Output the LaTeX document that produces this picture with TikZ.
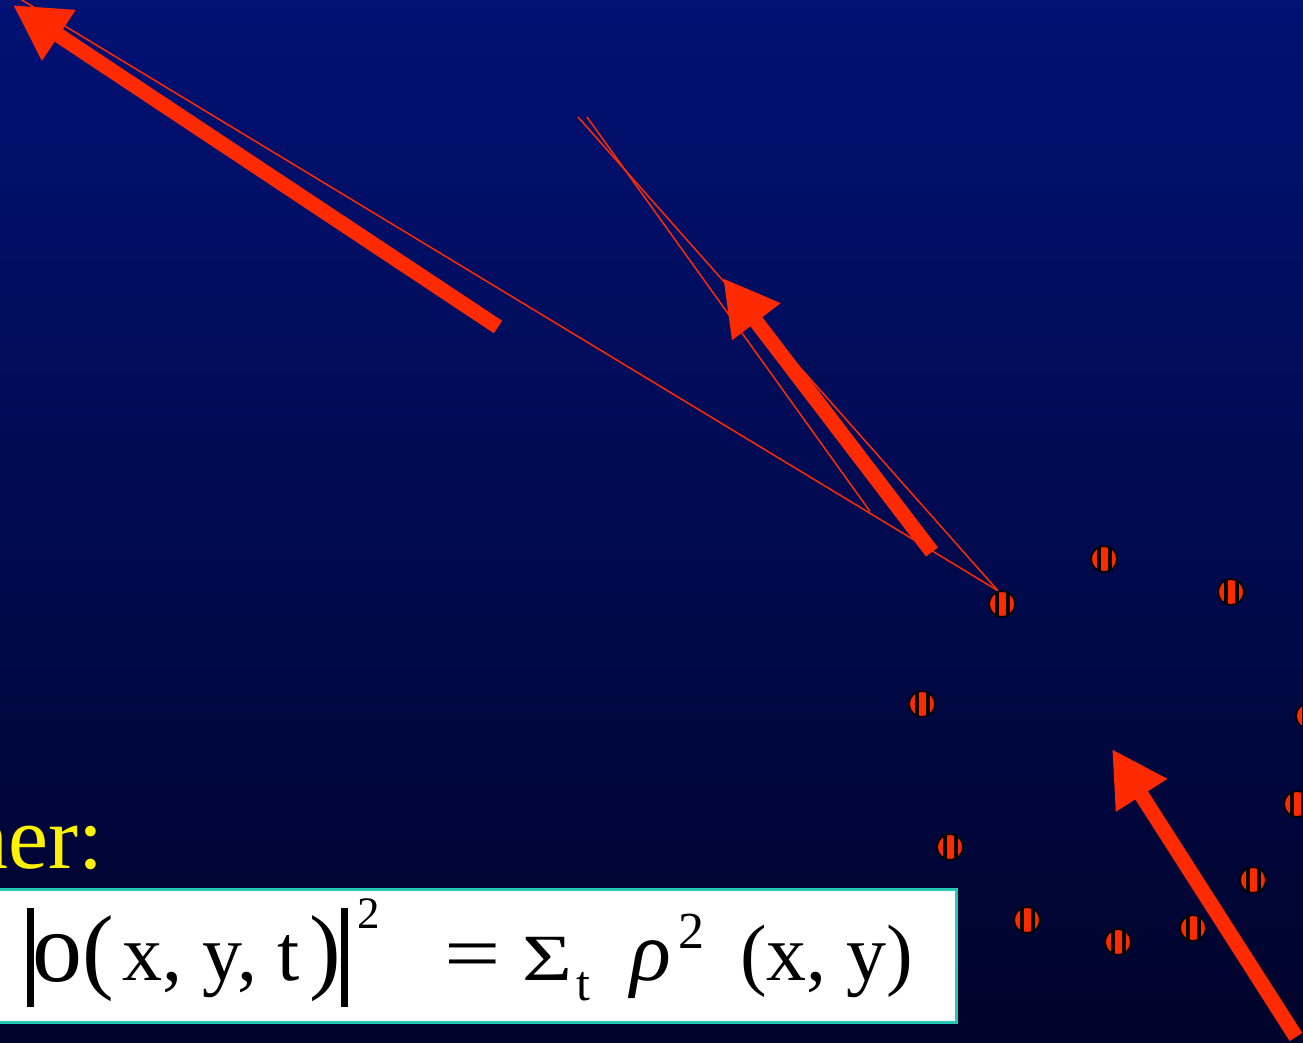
\documentclass[tikz,border=0pt]{standalone}
\usepackage{fontspec}
\setmainfont{Liberation Serif}
\usetikzlibrary{arrows.meta,calc}
\definecolor{bgtop}{RGB}{1,17,116}
\definecolor{bgmid}{RGB}{0,9,84}
\definecolor{bgbot}{RGB}{0,3,42}
\definecolor{arrowred}{RGB}{255,42,0}
\definecolor{boxteal}{RGB}{38,201,179}
\newcommand{\fs}[1]{\fontsize{#1}{#1}\selectfont}
\begin{document}
\begin{tikzpicture}[x=1pt,y=-1pt,
  bigarrow/.style={draw=arrowred, line width=15pt, -{Triangle[length=55pt,width=57pt]}},
  thinline/.style={draw=arrowred, line width=1.5pt},
  stripedot/.style={circle, draw=black, line width=1.8pt, fill=arrowred,
    minimum size=26pt, inner sep=0pt,
    path picture={
      \fill[black] ([xshift=-7.5pt]path picture bounding box.south) rectangle ([xshift=-3.5pt]path picture bounding box.north);
      \fill[black] ([xshift=3.5pt]path picture bounding box.south) rectangle ([xshift=7.5pt]path picture bounding box.north);
    }},
  fpart/.style={anchor=base west, inner sep=0pt, text=black},
  fbar/.style={anchor=south west, inner sep=0pt}
]
\useasboundingbox (0,0) rectangle (1303,1043);
\clip (0,0) rectangle (1303,1043);
\shade[top color=bgtop, middle color=bgmid, bottom color=bgbot] (0,0) rectangle (1303,1043);

% dots
\node[stripedot] (d1) at (1002,604) {};
\node[stripedot] (d2) at (1104,559) {};
\node[stripedot] (d3) at (1231,592) {};
\node[stripedot] (d4) at (922,704) {};
\node[stripedot] (d5) at (1309,716) {};
\node[stripedot] (d6) at (1297,804) {};
\node[stripedot] (d7) at (950,847) {};
\node[stripedot] (d8) at (1027,920) {};
\node[stripedot] (d9) at (1118,942) {};
\node[stripedot] (d10) at (1193,928) {};
\node[stripedot] (d11) at (1253,880) {};

% free ends
\coordinate (a0) at (17,-3);
\coordinate (b0) at (578,117);
\coordinate (c0) at (587,117);
\coordinate (k) at (870,511.4);
\coordinate (t1) at (498,327);
\coordinate (h1) at (13,5);
\coordinate (t2) at (932,552);
\coordinate (h2) at (723,278);
\coordinate (t3) at (1296,1037);
\coordinate (h3) at (1112,749);

% thin lines
\draw[thinline] (d1.107) -- (a0);
\draw[thinline] (d1.107) -- (b0);
\draw[thinline] (k) -- (c0);

% big arrows
\draw[bigarrow] (t1) -- (h1);
\draw[bigarrow] (t2) -- (h2);
\draw[bigarrow] (t3) -- (h3);

% label
\node[anchor=base east, inner sep=0pt, text=yellow, font=\fs{90pt}] (ner) at (104,868) {ner:};

% formula box
\node[draw=boxteal, line width=3pt, fill=white, minimum width=963pt, minimum height=132.5pt,
  anchor=north west, inner sep=0pt] (box) at (-8,888) {};
\node[fbar] (bar1) at (27,1007) {\rule{6.5pt}{99pt}};
\node[fpart, font=\fs{100pt}] (fo) at (32,981) {o};
\node[fpart, font=\fs{95pt}] (flp) at (82,981) {(};
\node[fpart, font=\fs{80pt}] (fxyt) at (122,980) {x, y, t};
\node[fpart, font=\fs{95pt}] (frp) at (309,981) {)};
\node[fbar] (bar2) at (341,1007) {\rule{7pt}{99pt}};
\node[fpart, font=\fs{45pt}] (fsq1) at (357,928) {2};
\node[fpart, font=\fs{80pt}] (feq) at (444,980) {\scalebox{1.25}[1]{=}};
\node[fpart, font=\fs{66pt}] (fsig) at (522,980) {\scalebox{1.3}[1]{Σ}};
\node[fpart, font=\fs{50pt}] (fsub) at (576,1000) {t};
\node[fpart, font=\fs{85pt}\itshape] (frho) at (630,980) {ρ};
\node[fpart, font=\fs{52pt}] (fsq2) at (678,948) {2};
\node[fpart, font=\fs{80pt}] (fxy) at (740,980) {(x, y)};
\end{tikzpicture}
\end{document}
